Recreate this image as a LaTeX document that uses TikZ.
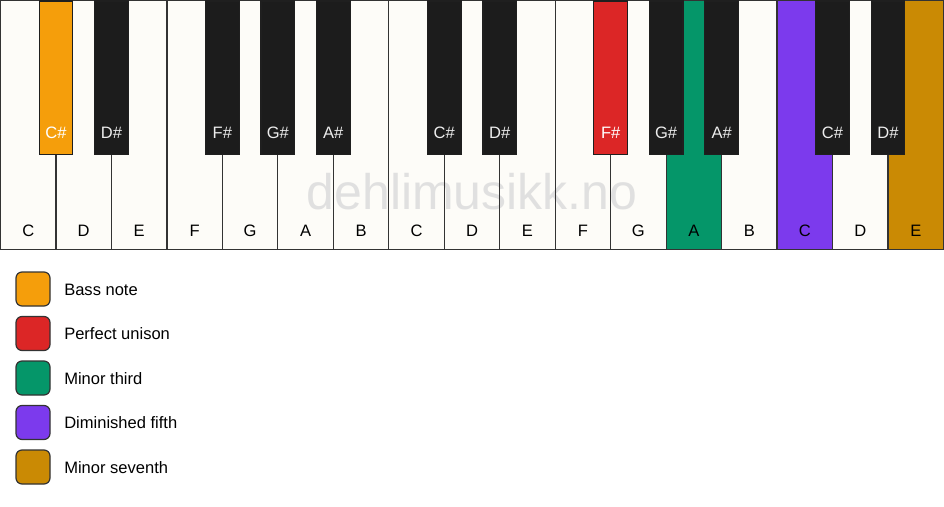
\documentclass[tikz,border=0pt]{standalone}
\usepackage{fontspec}
\setmainfont{Liberation Sans}
\definecolor{keywhite}{HTML}{FDFCF8}
\definecolor{keyblack}{HTML}{1C1C1C}
\definecolor{keyline}{HTML}{333333}
\definecolor{cbass}{HTML}{F59E0B}
\definecolor{cuni}{HTML}{DC2626}
\definecolor{cthird}{HTML}{059669}
\definecolor{cfifth}{HTML}{7C3AED}
\definecolor{cseventh}{HTML}{CA8A04}
\definecolor{wmark}{HTML}{DCDCDC}
\tikzset{
  whitekey/.style={inner sep=0pt, outer sep=0pt, minimum width=55.53*0.75pt, minimum height=249*0.75pt, anchor=north west},
  keyedge/.style={draw=keyline, line width=0.9pt},
  blackkey/.style={draw=keyline!60!black, line width=0.9pt, inner sep=0pt, minimum width=33.6*0.75pt, minimum height=153*0.75pt, anchor=north, fill=keyblack},
  wlabel/.style={font=\fontsize{12.4}{14}\selectfont, text=black},
  blabel/.style={font=\fontsize{12.4}{14}\selectfont, text=white!93!black},
  legbox/.style={draw=keyline, line width=0.9pt, rounded corners=4.5pt, minimum width=34*0.75pt, minimum height=34*0.75pt, inner sep=0pt},
  legtext/.style={font=\fontsize{12.4}{14}\selectfont, anchor=west, inner sep=0pt},
}
\begin{document}
\begin{tikzpicture}[x=0.75pt, y=-0.75pt]
\useasboundingbox (0,0) rectangle (944,506);
\fill[white] (0,0) rectangle (944,506);
% white keys
\def\ww{55.47}
\foreach \n/\fc in {0/keywhite,1/keywhite,2/keywhite,3/keywhite,4/keywhite,5/keywhite,6/keywhite,7/keywhite,8/keywhite,9/keywhite,10/keywhite,11/keywhite,12/cthird,13/keywhite,14/cfifth,15/keywhite,16/cseventh}{
  \node[whitekey, fill=\fc, minimum width=\ww*0.75pt] (w\n) at ({\n*\ww+0.5},0.5) {};
}
% watermark
\node[font=\fontsize{37.5}{40}\selectfont, text=wmark, opacity=0.85, inner sep=0pt] (wm) at (472,192) {dehlimusikk.no};
% key outlines over the watermark
\foreach \n in {0,...,16}{
  \draw[keyedge] (w\n.north west) rectangle (w\n.south east);
}
\foreach \n/\lab in {0/C,1/D,2/E,3/F,4/G,5/A,6/B,7/C,8/D,9/E,10/F,11/G,12/A,13/B,14/C,15/D,16/E}{
  \node[wlabel] (wl\n) at ({(\n+0.5)*\ww+0.5},230.5) {\lab};
}
% black keys
\foreach \n/\lab/\fc/\tc in {0/C\#/cbass/white,1/D\#/keyblack/white!93!black,3/F\#/keyblack/white!93!black,4/G\#/keyblack/white!93!black,5/A\#/keyblack/white!93!black,7/C\#/keyblack/white!93!black,8/D\#/keyblack/white!93!black,10/F\#/cuni/white,11/G\#/keyblack/white!93!black,12/A\#/keyblack/white!93!black,14/C\#/keyblack/white!93!black,15/D\#/keyblack/white!93!black}{
  \node[blackkey, fill=\fc] (b\n) at ({(\n+1)*\ww+0.5},0.5) {};
  \node[blabel, text=\tc] (bl\n) at ({(\n+1)*\ww+0.5},133) {\lab};
}
% legend
\foreach \i/\c/\t in {0/cbass/Bass note,1/cuni/Perfect unison,2/cthird/Minor third,3/cfifth/Diminished fifth,4/cseventh/Minor seventh}{
  \node[legbox, fill=\c] (lb\i) at (33,{289+\i*44.5}) {};
  \node[legtext] (lt\i) at (64,{289.5+\i*44.5}) {\t};
}
\end{tikzpicture}
\end{document}
